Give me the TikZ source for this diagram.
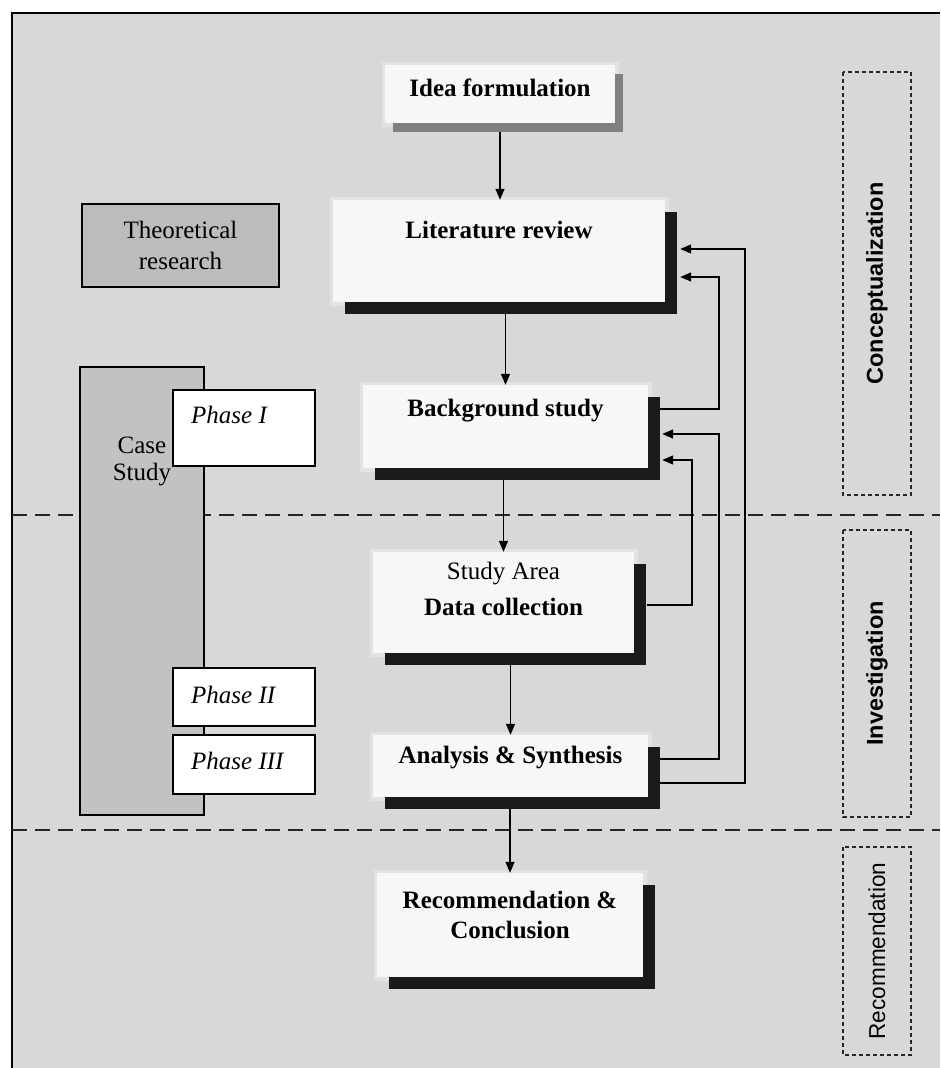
\documentclass[tikz,border=0pt]{standalone}
\usepackage{fontspec}
\usepackage{graphicx}
\setmainfont{Liberation Serif}
\newfontfamily\sidefont{Liberation Sans}
\usetikzlibrary{arrows.meta,shadows}
\definecolor{panel}{RGB}{216,216,216}
\definecolor{halo}{RGB}{227,227,227}
\definecolor{theoryfill}{RGB}{188,188,188}
\definecolor{casefill}{RGB}{194,194,194}
\definecolor{softshadow}{RGB}{128,128,128}
\definecolor{hardshadow}{RGB}{26,26,26}
\definecolor{paper}{RGB}{247,247,247}
\begin{document}
\begin{tikzpicture}[x=1pt,y=-1pt,
  every node/.style={font=\fontsize{25}{29}\selectfont, inner sep=0pt},
  stepbox/.style={fill=paper, draw=none, inner sep=0pt, preaction={draw=halo, line width=7pt}},
  hardshade/.style={drop shadow={shadow xshift=12pt, shadow yshift=-12pt, fill=hardshadow, opacity=1}},
  softshade/.style={drop shadow={shadow xshift=8pt, shadow yshift=-9pt, fill=softshadow, opacity=1}},
  steptitle/.style={font=\fontsize{25}{30}\selectfont\bfseries, align=center},
  stepplain/.style={font=\fontsize{25}{30}\selectfont, align=center},
  greybox/.style={draw=black, line width=1.2pt, inner sep=0pt},
  phasebox/.style={draw=black, line width=1.2pt, fill=white, minimum width=142pt, inner sep=0pt},
  phasetext/.style={font=\fontsize{25}{29}\selectfont\itshape, anchor=west},
  sidebox/.style={draw=black!85, line width=1.1pt, dash pattern=on 4pt off 3pt, rotate=90,
    minimum height=68pt, inner sep=0pt, font=\sidefont\fontsize{23}{26}\selectfont},
  separator/.style={draw=black!85, line width=1.4pt, dash pattern=on 15pt off 8pt},
  arr/.style={draw=black, line width=1.2pt, -{Triangle[length=11pt,width=9pt]}},
  fb/.style={arr}
]
\useasboundingbox (0,0) rectangle (940,1068);
\fill[white] (0,0) rectangle (940,1068);

% panel and its frame
\fill[panel] (12,13) rectangle (940,1068);
\draw[line width=1.8pt] (940,13) -- (12,13) -- (12,1068);

% stage separators
\draw[separator] (12,515) -- (940,515);
\draw[separator] (12,830) -- (940,830);

% left column
\node[greybox, fill=theoryfill, minimum width=197pt, minimum height=83pt,
      font=\fontsize{25}{31}\selectfont, align=center] (theory) at (180.5,245.5) {Theoretical\\research};
\node[greybox, fill=casefill, minimum width=124pt, minimum height=448pt] (case) at (142,591) {};
\node[font=\fontsize{25}{27}\selectfont, align=center] (casetext) at (142,461) {Case\\Study};
\node[phasebox, minimum height=76pt] (phase1) at (244,428) {};
\node[phasetext] (phase1text) at (191,415) {Phase I};
\node[phasebox, minimum height=58pt] (phase2) at (244,697) {};
\node[phasetext] (phase2text) at (191,695) {Phase II};
\node[phasebox, minimum height=59pt] (phase3) at (244,764.5) {};
\node[phasetext] (phase3text) at (191,761) {Phase III};

% main process steps
\node[stepbox, softshade, minimum width=230pt, minimum height=58pt] (idea) at (500,94) {};
\node[steptitle] (ideatext) at (500,88) {Idea formulation};

\node[stepbox, hardshade, minimum width=332pt, minimum height=102pt] (lit) at (499,251) {};
\node[steptitle] (littext) at (499,230) {Literature review};

\node[stepbox, hardshade, minimum width=285pt, minimum height=83pt] (back) at (505.5,426.5) {};
\node[steptitle] (backtext) at (505.5,411) {Background study};

\node[stepbox, hardshade, minimum width=261pt, minimum height=101pt] (study) at (503.5,602.5) {};
\node[stepplain] (studytext) at (503.5,574) {Study Area};
\node[steptitle] (datatext) at (503.5,607) {Data collection};

\node[stepbox, hardshade, minimum width=275pt, minimum height=62pt] (analysis) at (510.5,766) {};
\node[steptitle] (analysistext) at (510.5,758) {Analysis \& Synthesis};

\node[stepbox, hardshade, minimum width=266pt, minimum height=104pt] (rec) at (510,925) {};
\node[steptitle] (rectext) at (510,915) {Recommendation \&\\Conclusion};

% main flow
\draw[arr] (idea.south) ++(0,9) -- (idea.south |- lit.north);
\draw[arr] (lit.south -| back.north) ++(0,12) -- (back.north);
\draw[arr] (back.south -| study.north) ++(0,12) -- (study.north);
\draw[arr] (study.south -| analysis.north) ++(0,12) -- (analysis.north);
\draw[arr] (analysis.south -| rec.north) ++(0,12) -- (rec.north);

% feedback loops on the right
\coordinate (litin) at ([xshift=15pt]lit.east);
\coordinate (backin) at ([xshift=14pt]back.east);
\coordinate (backout) at ([xshift=12pt]back.east);
\coordinate (studyout) at ([xshift=13pt]study.east);
\coordinate (anaout) at ([xshift=12pt]analysis.east);
\draw[fb] (backout |- 0,409) -| (719,277) -- (litin |- 0,277);
\draw[fb] (anaout |- 0,783) -| (745,249) -- (litin |- 0,249);
\draw[fb] (anaout |- 0,759) -| (719,434) -- (backin |- 0,434);
\draw[fb] (studyout |- 0,605) -| (692,460) -- (backin |- 0,460);

% stage labels
\node[sidebox, minimum width=423pt] (concept) at (877,283.5) {\scalebox{1.02}[1]{\bfseries Conceptualization}};
\node[sidebox, minimum width=287pt] (invest) at (877,673.5) {\scalebox{1.02}[1]{\bfseries Investigation}};
\node[sidebox, minimum width=208pt] (recom) at (877,951) {\scalebox{0.98}[1]{Recommendation}};
\end{tikzpicture}
\end{document}
